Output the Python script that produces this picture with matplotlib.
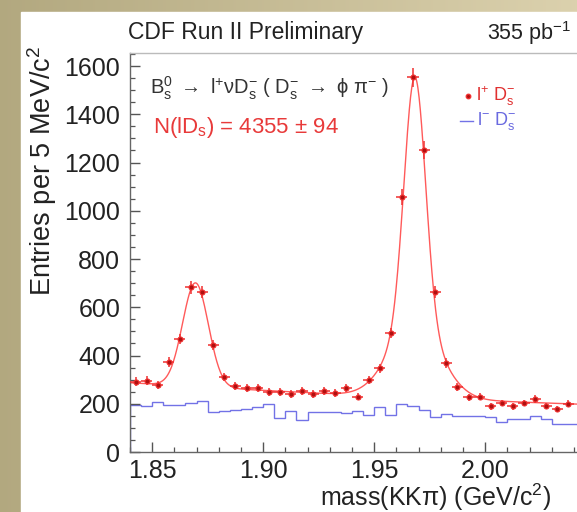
import numpy as np
import matplotlib
matplotlib.use("Agg")
import matplotlib.pyplot as plt
from matplotlib.ticker import MultipleLocator
from matplotlib.lines import Line2D
from matplotlib.patches import Rectangle

plt.rcParams['font.family'] = ['Liberation Sans', 'DejaVu Sans']
plt.rcParams['mathtext.fontset'] = 'custom'
plt.rcParams['mathtext.rm'] = 'Liberation Sans'
plt.rcParams['mathtext.it'] = 'Liberation Sans:italic'
plt.rcParams['mathtext.bf'] = 'Liberation Sans:bold'
plt.rcParams['mathtext.sf'] = 'Liberation Sans'

# Histogram binning (GeV/c^2)
bin_lo = 1.84
bin_width = 0.005

# l+ Ds- candidates (right-sign), entries per bin
right_sign = [292, 296, 278, 373, 468, 682, 663, 443, 311, 274,
              265, 265, 250, 249, 240, 253, 240, 253, 245, 265,
              230, 298, 348, 493, 1057, 1554, 1252, 663, 369, 269,
              226, 230, 189, 203, 189, 203, 220, 191, 178, 201]

# l- Ds- candidates (wrong-sign), entries per bin
wrong_sign = [195, 190, 206, 195, 195, 205, 212, 165, 168, 176,
              180, 188, 200, 142, 170, 134, 167, 167, 165, 162,
              168, 153, 187, 155, 197, 190, 176, 147, 158, 150,
              148, 148, 147, 126, 136, 136, 148, 137, 118, 118, 118]

# Fit: D+ and Ds peaks on a quadratic background
dplus_mean, dplus_sigma, dplus_amp = 1.8695, 0.0058, 430.0
ds_mean = 1.9683
ds_core_sigma, ds_core_amp = 0.0048, 1029.0
ds_tail_sigma, ds_tail_amp = 0.0115, 300.0
bkg_c0, bkg_c1, bkg_c2 = 287.0, -560.0, 600.0

n_signal, n_signal_err = 4355, 94

x_tick_values = [1.85, 1.90, 1.95, 2.00]
x_tick_labels = ['1.85', '1.90', '1.95', '2.00']


def gauss(x, m, s, a):
    return a * np.exp(-0.5 * ((x - m) / s) ** 2)


def fit_model(x):
    u = x - bin_lo
    bkg = bkg_c0 + bkg_c1 * u + bkg_c2 * u ** 2
    return (bkg + gauss(x, dplus_mean, dplus_sigma, dplus_amp)
            + gauss(x, ds_mean, ds_core_sigma, ds_core_amp)
            + gauss(x, ds_mean, ds_tail_sigma, ds_tail_amp))


W, H = 577, 512
fig = plt.figure(figsize=(W / 100, H / 100), dpi=100)
fig.patch.set_facecolor('#c9bd95')

# Slide background: tan border with a white panel
bg = fig.add_axes([0, 0, 1, 1], zorder=-10)
bg.set_axis_off()
grad = np.linspace(0, 1, 256)[None, :]
bg.imshow(np.dstack([0.70 + 0.16 * grad, 0.66 + 0.16 * grad, 0.50 + 0.18 * grad]),
          extent=[0, 1, 0, 1], aspect='auto')
bg.add_patch(Rectangle((21 / W, 0), 1, 1 - 12 / H, color='white', zorder=2))
bg.set_xlim(0, 1)
bg.set_ylim(0, 1)

ax_left, ax_top, ax_bottom = 130, 53, 452
x_min, x_max = 1.84, 2.06
px_per_gev = 2220
ax_w = (x_max - x_min) * px_per_gev
ax = fig.add_axes([ax_left / W, 1 - ax_bottom / H, ax_w / W, (ax_bottom - ax_top) / H])
ax.set_facecolor('none')

edges = bin_lo + bin_width * np.arange(len(wrong_sign) + 1)
centers = bin_lo + bin_width * (np.arange(len(right_sign)) + 0.5)
rs = np.array(right_sign, dtype=float)

ax.stairs(wrong_sign, edges, color='#7272e6', lw=1.0)

xf = np.linspace(x_min, x_max, 800)
ax.plot(xf, fit_model(xf), color='#ff5a5a', lw=1.0)

ax.errorbar(centers, rs, xerr=bin_width / 2, yerr=np.sqrt(rs), fmt='o', ms=3.6,
            mfc='#b01010', mec='#f03030', mew=0.8, ecolor='#f03030',
            elinewidth=1.1, capsize=0, zorder=5)

ax.set_xlim(x_min, x_max)
ax.set_ylim(0, 1654)
ax.xaxis.set_major_locator(MultipleLocator(0.05))
ax.xaxis.set_minor_locator(MultipleLocator(0.01))
ax.yaxis.set_major_locator(MultipleLocator(200))
ax.yaxis.set_minor_locator(MultipleLocator(50))
ax.tick_params(which='both', direction='in', color='#555555', top=False, right=False)
ax.tick_params(which='major', length=7, width=1.0)
ax.tick_params(which='minor', length=3.5, width=0.9)
ax.tick_params(axis='y', labelsize=18, pad=7, labelcolor='#222222')
ax.tick_params(axis='x', labelsize=18, pad=5, labelcolor='#222222')
ax.set_xticks(x_tick_values)
ax.set_xticklabels(x_tick_labels)
for s in ax.spines.values():
    s.set_color('#666666')
    s.set_linewidth(1.0)
ax.spines['top'].set_color('#bbbbbb')


def fx(px):
    return px / W


def fy(py):
    return 1 - py / H


fig.text(fx(42), fy(46), r'Entries per 5 MeV/c$^{2}$', rotation=90,
         ha='center', va='top', fontsize=19.5, color='#222222')
fig.text(fx(320), fy(497), r'mass(KK$\mathrm{\pi}$) (GeV/c$^{2}$)', ha='left', va='center',
         fontsize=18, color='#222222')
fig.text(fx(128), fy(33), 'CDF Run II Preliminary', ha='left', va='center',
         fontsize=16.5, color='#222222')
fig.text(fx(487), fy(33), r'355 pb$^{-1}$', ha='left', va='center',
         fontsize=15.5, color='#222222')

fig.text(fx(150), fy(88),
         r'B$_\mathrm{s}^0$ $\rightarrow$ l$^{+}\mathrm{\nu}$D$_\mathrm{s}^{-}$ ( D$_\mathrm{s}^{-}$ $\rightarrow$ $\mathrm{\phi}$ $\mathrm{\pi}^{-}$ )',
         ha='left', va='center', fontsize=14.5, color='#333333')
fig.text(fx(153), fy(128), r'N(lD$_\mathrm{s}$) = %d $\pm$ %d' % (n_signal, n_signal_err),
         ha='left', va='center', fontsize=16, color='#e83a3a')

# Legend
fig.add_artist(Line2D([fx(468)], [fy(96)], marker='o', ms=3.2, mfc='#b01010',
                      mec='#f03030', ls='none'))
fig.text(fx(476), fy(96), r'l$^{+}$ D$_\mathrm{s}^{-}$', ha='left', va='center',
         fontsize=13, color='#e03030')
fig.add_artist(Line2D([fx(460), fx(473)], [fy(121), fy(121)], color='#7272e6', lw=1.0))
fig.text(fx(477), fy(121), r'l$^{-}$ D$_\mathrm{s}^{-}$', ha='left', va='center',
         fontsize=13, color='#6a6ae0')

fig.savefig('out.png', dpi=100)
